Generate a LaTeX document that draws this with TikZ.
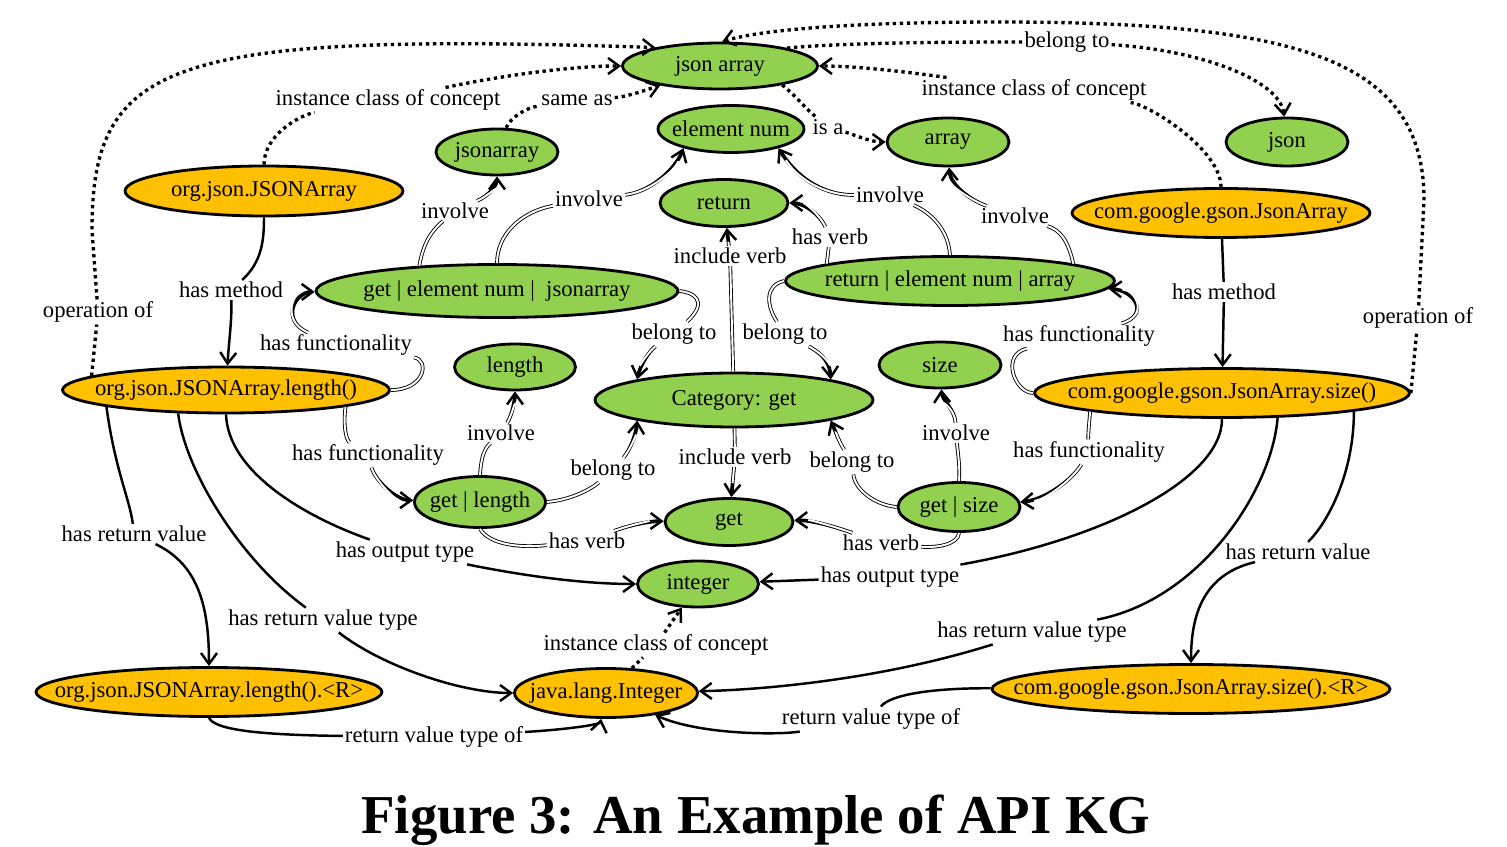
\documentclass[tikz,border=0pt]{standalone}
\usepackage{fontspec}
\setmainfont{Liberation Serif}
\usetikzlibrary{shapes.geometric, arrows.meta}

\definecolor{kggreen}{RGB}{146,208,80}
\definecolor{kgorange}{RGB}{255,192,0}
\newcommand{\nt}[1]{\makebox[0pt]{#1}}

\begin{document}
\begin{tikzpicture}[x=0.02cm, y=-0.02cm,
  gnode/.style={draw, ellipse, line width=1.6pt, fill=kggreen, inner sep=0pt, font=\fontsize{12.9}{15}\selectfont},
  onode/.style={gnode, fill=kgorange},
  elab/.style={inner sep=1pt, font=\fontsize{12.9}{15}\selectfont},
  dotarr/.style={line width=1.9pt, dash pattern=on 1.9pt off 2.1pt, -{Straight Barb[length=2.2mm, width=3.2mm, line width=1.4pt]}},
  solarr/.style={line width=1.4pt, -{Straight Barb[length=2.2mm, width=3.2mm]}},
  dblarr/.style={line width=2.1pt, -{Straight Barb[length=2.2mm, width=3.2mm, line width=1.4pt]},
    postaction={draw=white, line width=1.1pt, -, shorten >=2.8mm}}
]
  \useasboundingbox (0,0) rectangle (1507,847);

  % Concept nodes (green)
  \node[gnode, minimum width=3.9cm, minimum height=0.92cm] (ja) at (720,66) {\nt{json array}};
  \node[gnode, minimum width=2.44cm, minimum height=0.96cm] (json) at (1287,142) {\nt{json}};
  \node[gnode, minimum width=2.44cm, minimum height=0.96cm] (arr) at (948,142) {\nt{array}};
  \node[gnode, minimum width=2.92cm, minimum height=0.94cm] (en) at (731,129) {\nt{element num}};
  \node[gnode, minimum width=2.44cm, minimum height=0.92cm] (jsa) at (497,152) {\nt{jsonarray}};
  \node[gnode, minimum width=2.56cm, minimum height=0.94cm] (ret) at (724,203) {\nt{return}};
  \node[gnode, minimum width=7.24cm, minimum height=1.06cm] (getEJ) at (497,291) {\nt{get | element num | \ jsonarray}};
  \node[gnode, minimum width=6.58cm, minimum height=0.98cm] (retEA) at (950,281) {\nt{return | element num | array}};
  \node[gnode, minimum width=2.42cm, minimum height=0.92cm] (len) at (515,367) {\nt{length}};
  \node[gnode, minimum width=2.44cm, minimum height=0.92cm] (size) at (940,365) {\nt{size}};
  \node[gnode, minimum width=5.56cm, minimum height=1.08cm] (cat) at (734,400) {\nt{Category: get}};
  \node[gnode, minimum width=2.62cm, minimum height=1.02cm] (getL) at (480,502) {\nt{get | length}};
  \node[gnode, minimum width=2.44cm, minimum height=0.98cm] (getS) at (959,507) {\nt{get | size}};
  \node[gnode, minimum width=2.56cm, minimum height=0.94cm] (get) at (729,522) {\nt{get}};
  \node[gnode, minimum width=2.42cm, minimum height=0.92cm] (int) at (698,584) {\nt{integer}};

  % API nodes (orange)
  \node[onode, minimum width=5.56cm, minimum height=1.0cm] (ojA) at (264,191) {\nt{org.json.JSONArray}};
  \node[onode, minimum width=5.96cm, minimum height=0.98cm] (gA) at (1221,213) {\nt{com.google.gson.JsonArray}};
  \node[onode, minimum width=6.54cm, minimum height=0.92cm] (ojAl) at (226,390) {\nt{org.json.JSONArray.length()}};
  \node[onode, minimum width=7.5cm, minimum height=0.98cm] (gAs) at (1222,393) {\nt{com.google.gson.JsonArray.size()}};
  \node[onode, minimum width=3.66cm, minimum height=0.98cm] (jlI) at (606,693) {\nt{java.lang.Integer}};
  \node[onode, minimum width=6.92cm, minimum height=0.98cm] (ojAlR) at (209,692) {\nt{org.json.JSONArray.length().<R>}};
  \node[onode, minimum width=7.96cm, minimum height=0.98cm] (gAsR) at (1191,689) {\nt{com.google.gson.JsonArray.size().<R>}};

  % Edge labels
  \node[elab] (lD1) at (388,100) {instance class of concept};
  \node[elab] (lD2) at (98,312) {operation of};
  \node[elab] (lD3) at (1034,90) {instance class of concept};
  \node[elab] (lD4) at (1418,318) {operation of};
  \node[elab] (lD5) at (1067,42) {belong to};
  \node[elab] (lD6) at (577,100) {same as};
  \node[elab] (lD7) at (828,127) {is a};
  \node[elab] (lD8) at (656,645) {instance class of concept};
  \node[elab] (lS1) at (231,290) {has method};
  \node[elab] (lS2) at (1224,292) {has method};
  \node[elab] (lS3) at (134,534) {has return value};
  \node[elab] (lS4) at (323,620) {has return value type};
  \node[elab] (lS5) at (405,552) {has output type};
  \node[elab] (lS6) at (890,577) {has output type};
  \node[elab] (lS7) at (1032,632) {has return value type};
  \node[elab] (lS8) at (1298,552) {has return value};
  \node[elab] (lS9) at (434,737) {return value type of};
  \node[elab] (lS10) at (871,719) {return value type of};
  \node[elab] (lB1) at (455,211) {involve};
  \node[elab] (lB2) at (589,199) {involve};
  \node[elab] (lB3) at (890,195) {involve};
  \node[elab] (lB4) at (1015,216) {involve};
  \node[elab] (lB5) at (830,237) {has verb};
  \node[elab] (lB6) at (730,256) {include verb};
  \node[elab] (lB7) at (674,334) {belong to};
  \node[elab] (lB8) at (785,334) {belong to};
  \node[elab] (lB9) at (336,345) {has functionality};
  \node[elab] (lB10) at (368,455) {has functionality};
  \node[elab] (lB11) at (501,433) {involve};
  \node[elab] (lB12) at (613,470) {belong to};
  \node[elab] (lB13) at (587,541) {has verb};
  \node[elab] (lB14) at (1089,452) {has functionality};
  \node[elab] (lB15) at (956,433) {involve};
  \node[elab] (lB16) at (852,462) {belong to};
  \node[elab] (lB17) at (881,543) {has verb};
  \node[elab] (lB18) at (1079,336) {has functionality};
  \node[elab] (lB19) at (735,457) {include verb};

  % Dotted relations
  \draw[dotarr] (ojA) .. controls (264,135) and (300,115) .. (lD1) .. controls (480,80) and (560,66) .. (ja);
  \draw[dotarr] (ojAl.174) -- (lD2) -- (92,230) .. controls (92,60) and (170,32) .. (ja.164);
  \draw[dotarr] (gA) .. controls (1221,150) and (1150,105) .. (lD3) .. controls (950,78) and (870,66) .. (ja);
  \draw[dotarr] (gAs.east) -- (lD4) -- (1424,200) .. controls (1424,60) and (1300,22) .. (1000,22) .. controls (850,22) and (760,30) .. (ja.85);
  \draw[dotarr] (ja.15) .. controls (850,42) and (980,42) .. (lD5) .. controls (1200,50) and (1280,80) .. (json);
  \draw[dotarr] (jsa) .. controls (510,118) and (525,108) .. (lD6) .. controls (625,97) and (640,92) .. (ja);
  \draw[dotarr] (ja.-17) .. controls (795,95) and (805,108) .. (lD7) .. controls (855,135) and (870,142) .. (arr);
  \draw[dotarr] (jlI) -- (lD8) -- (int);

  % Solid relations
  \draw[solarr] (ojA) .. controls (264,240) and (262,262) .. (lS1) .. controls (232,320) and (229,340) .. (ojAl);
  \draw[solarr] (gA) -- (lS2) -- (gAs);
  \draw[solarr] (ojAl.-172) .. controls (115,470) and (130,500) .. (lS3) .. controls (200,565) and (209,610) .. (ojAlR);
  \draw[solarr] (ojAl.-154) .. controls (185,470) and (240,560) .. (lS4) .. controls (380,665) and (460,693) .. (jlI);
  \draw[solarr] (ojAl.south) .. controls (228,470) and (300,515) .. (lS5) .. controls (520,575) and (580,584) .. (int);
  \draw[solarr] (gAs.south) .. controls (1222,480) and (1100,540) .. (lS6) -- (int);
  \draw[solarr] (gAs.-24) .. controls (1272,490) and (1200,600) .. (lS7) .. controls (880,680) and (760,690) .. (jlI);
  \draw[solarr] (gAs.-8) .. controls (1354,470) and (1330,520) .. (lS8) .. controls (1200,575) and (1191,620) .. (gAsR);
  \draw[solarr] (ojAlR.south) .. controls (215,730) and (260,735) .. (lS9) .. controls (560,730) and (600,725) .. (jlI);
  \draw[solarr] (gAsR) .. controls (930,688) and (890,695) .. (lS10) .. controls (780,735) and (700,735) .. (jlI);

  % Double-line relations
  \draw[dblarr] (getEJ.162) .. controls (423,245) and (430,232) .. (lB1) .. controls (490,195) and (497,185) .. (jsa);
  \draw[dblarr] (getEJ.north) .. controls (497,235) and (520,212) .. (lB2) .. controls (650,192) and (675,170) .. (en.-158);
  \draw[dblarr] (retEA.north) .. controls (948,225) and (925,210) .. (lB3) .. controls (820,195) and (795,175) .. (en.-22);
  \draw[dblarr] (retEA.8) .. controls (1068,240) and (1060,230) .. (lB4) .. controls (970,200) and (950,185) .. (arr);
  \draw[dblarr] (retEA.172) -- (lB5) .. controls (820,215) and (805,203) .. (ret);
  \draw[dblarr] (cat) -- (lB6) -- (ret);
  \draw[dblarr] (getEJ.east) .. controls (692,292) and (710,300) .. (lB7) .. controls (650,350) and (640,365) .. (cat.168);
  \draw[dblarr] (retEA.west) .. controls (765,285) and (766,305) .. (lB8) .. controls (825,355) and (830,365) .. (cat.12);
  \draw[dblarr] (ojAl.east) .. controls (425,390) and (430,360) .. (lB9) .. controls (280,320) and (295,292) .. (getEJ);
  \draw[dblarr] (ojAl.-8) .. controls (343,425) and (346,440) .. (lB10) .. controls (375,480) and (395,500) .. (getL);
  \draw[dblarr] (getL.north) .. controls (481,460) and (483,450) .. (lB11) .. controls (512,415) and (515,400) .. (len);
  \draw[dblarr] (getL.east) .. controls (570,500) and (590,490) .. (lB12) .. controls (630,450) and (636,435) .. (cat.-168);
  \draw[dblarr] (getL.south) .. controls (490,545) and (520,548) .. (lB13) .. controls (630,525) and (650,521) .. (get);
  \draw[dblarr] (gAs.-172) .. controls (1089,425) and (1088,435) .. (lB14) .. controls (1072,480) and (1045,500) .. (getS);
  \draw[dblarr] (getS.north) .. controls (960,465) and (958,455) .. (lB15) .. controls (955,410) and (942,400) .. (size);
  \draw[dblarr] (getS.west) .. controls (875,505) and (855,490) .. (lB16) .. controls (838,440) and (835,430) .. (cat.-12);
  \draw[dblarr] (getS.south) .. controls (958,545) and (935,548) .. (lB17) .. controls (830,525) and (810,520) .. (get);
  \draw[dblarr] (gAs.west) .. controls (1015,393) and (1000,355) .. (lB18) .. controls (1150,315) and (1135,290) .. (retEA);
  \draw[dblarr] (cat) -- (lB19) -- (get);

  % Caption
  \node[font=\fontsize{31.2}{38}\selectfont\bfseries, anchor=base] (title) at (756,833) {Figure 3: An Example of API KG};
\end{tikzpicture}
\end{document}
